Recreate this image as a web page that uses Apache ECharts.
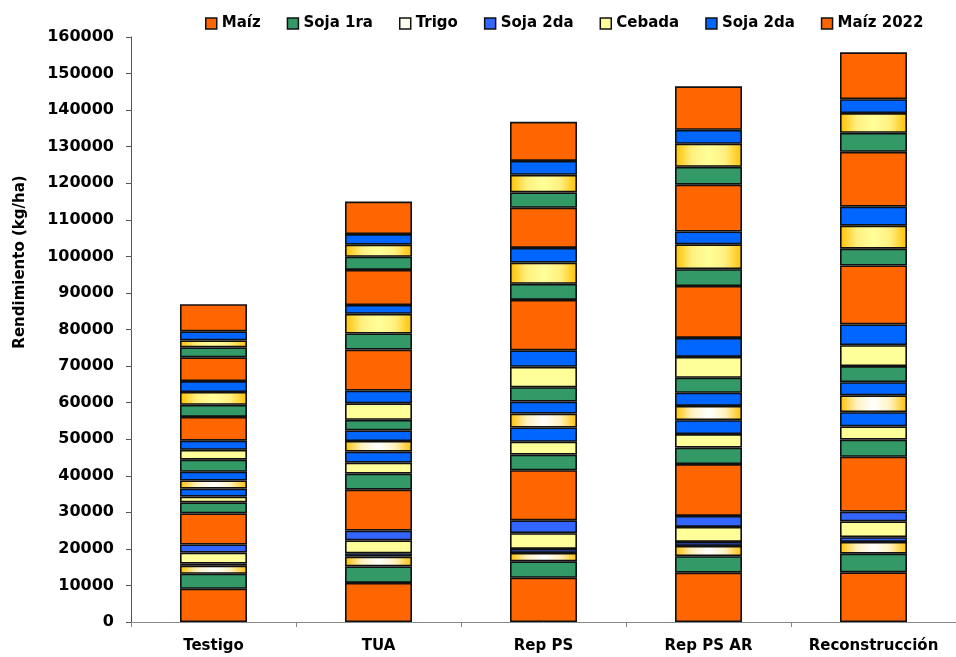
<!DOCTYPE html>
<html>
<head>
<meta charset="utf-8">
<script src="https://cdn.jsdelivr.net/npm/echarts@6/dist/echarts.min.js"></script>
<style>
  html, body { margin: 0; padding: 0; background: #fff; }
  #chart { width: 956px; height: 657px; }
</style>
</head>
<body>
<div id="chart"></div>
<script>
// categorías del eje x
var categories = ['Testigo', 'TUA', 'Rep PS', 'Rep PS AR', 'Reconstrucción'];
var yTicks = [0, 160000, 10000]; // min, max, intervalo

// cultivo de cada tramo de la pila, de abajo hacia arriba
var segmentCrop = ['maiz', 'soja1', 'trigo', 'soja2b', 'cebada', 'soja2b',
  'maiz', 'soja1', 'cebada', 'soja2', 'trigo', 'soja2', 'soja1', 'cebada', 'soja2',
  'maiz', 'soja1', 'trigoOro', 'soja2', 'maiz', 'soja1', 'trigoOro', 'soja2', 'maiz2022'];

// rendimientos (kg/ha) por tramo, de abajo hacia arriba
var testigo = [9100, 4100, 2200, 600, 3000, 2200, 8500, 3000, 1600, 2200, 2200, 2400,
  3300, 2700, 2500, 6500, 3300, 3500, 3000, 6500, 2700, 1900, 2500, 7400];
var tua = [10700, 4500, 2700, 900, 3500, 2700, 11200, 4400, 3000, 3000, 2900, 2900,
  2900, 4500, 3500, 11200, 4400, 5400, 2400, 9600, 3600, 3300, 2900, 8900];
var repPS = [12100, 4500, 2300, 1100, 4300, 3500, 13700, 4300, 3500, 3900, 3800, 3300,
  3900, 5600, 4500, 13800, 4400, 5800, 4000, 11000, 4200, 4800, 3800, 10700];
var repPSAR = [13500, 4500, 2800, 1100, 4100, 3000, 14200, 4500, 3700, 3800, 3900, 3600,
  4100, 5700, 5200, 14200, 4600, 6800, 3500, 12800, 4900, 6300, 3800, 11900];
var reconstruccion = [13600, 5100, 3200, 1300, 4300, 2700, 15000, 4700, 3600, 3900, 4600, 3600,
  4400, 5700, 5700, 16100, 4600, 6300, 5200, 15000, 5200, 5400, 3800, 12800];

var legendNames = ['Maíz', 'Soja 1ra', 'Trigo', 'Soja 2da', 'Cebada', 'Soja 2da (b)', 'Maíz 2022'];

var bars = [testigo, tua, repPS, repPSAR, reconstruccion];

function grad(edge, mid, center) {
  return new echarts.graphic.LinearGradient(0, 0, 1, 0, [
    { offset: 0, color: edge },
    { offset: 0.25, color: mid },
    { offset: 0.5, color: center },
    { offset: 0.75, color: mid },
    { offset: 1, color: edge }
  ]);
}

var crops = {
  maiz:     { name: 'Maíz', color: '#FF6600' },
  maiz2022: { name: 'Maíz 2022', color: '#FF6600' },
  soja1:    { name: 'Soja 1ra', color: '#339966' },
  trigo:    { name: 'Trigo', color: grad('#FFC000', '#FFF2C0', '#FFFFFF') },
  trigoOro: { name: 'Trigo', color: grad('#FFC000', '#FFF080', '#FFFF99') },
  soja2:    { name: 'Soja 2da (b)', color: '#0066FF' },
  soja2b:   { name: 'Soja 2da', color: '#3366FF' },
  cebada:   { name: 'Cebada', color: '#FFFF99' }
};

var legendColors = {
  'Maíz': '#FF6600', 'Soja 1ra': '#339966', 'Trigo': '#FFFFF0', 'Soja 2da': '#3366FF',
  'Cebada': '#FFFF99', 'Soja 2da (b)': '#0066FF', 'Maíz 2022': '#FF6600'
};

var series = segmentCrop.map(function (c, i) {
  return {
    type: 'bar',
    name: crops[c].name,
    stack: 'total',
    barWidth: 67,
    data: bars.map(function (b) { return b[i]; }),
    itemStyle: { color: crops[c].color, borderColor: '#111', borderWidth: 1.6 },
    emphasis: { disabled: true }
  };
});

var font = 'DejaVu Sans';
var myChart = echarts.init(document.getElementById('chart'));
myChart.setOption({
  animation: false,
  grid: { left: 131, top: 37, width: 833, bottom: 35 },
  legend: {
    top: 11,
    left: 200,
    itemWidth: 11,
    itemHeight: 11,
    itemGap: 26,
    data: legendNames.map(function (n) {
      return { name: n, icon: 'rect', itemStyle: { color: legendColors[n], borderColor: '#111', borderWidth: 1.5 } };
    }),
    formatter: function (n) { return n.replace(' (b)', ''); },
    textStyle: { fontFamily: font, fontWeight: 'bold', fontSize: 15, color: '#000' }
  },
  xAxis: {
    type: 'category',
    data: categories,
    axisLine: { lineStyle: { color: '#888', width: 1 } },
    axisTick: { show: true, length: 5, lineStyle: { color: '#888' } },
    axisLabel: { interval: 0, margin: 17, fontFamily: font, fontWeight: 'bold', fontSize: 15, color: '#000' }
  },
  yAxis: {
    type: 'value',
    min: yTicks[0],
    max: yTicks[1],
    interval: yTicks[2],
    splitLine: { show: false },
    axisLine: { show: true, lineStyle: { color: '#555', width: 1 } },
    axisTick: { show: true, length: 5, lineStyle: { color: '#555' } },
    axisLabel: {
      margin: 17,
      fontFamily: font, fontWeight: 'bold', fontSize: 16, color: '#000',
      formatter: function (v) { return String(v); }
    }
  },
  graphic: [{
    type: 'text',
    x: 20, y: 262,
    rotation: Math.PI / 2,
    style: {
      text: 'Rendimiento (kg/ha)',
      fontFamily: font, fontWeight: 'bold', fontSize: 15, fill: '#000',
      align: 'center', verticalAlign: 'middle'
    }
  }],
  series: series
});
</script>
</body>
</html>
